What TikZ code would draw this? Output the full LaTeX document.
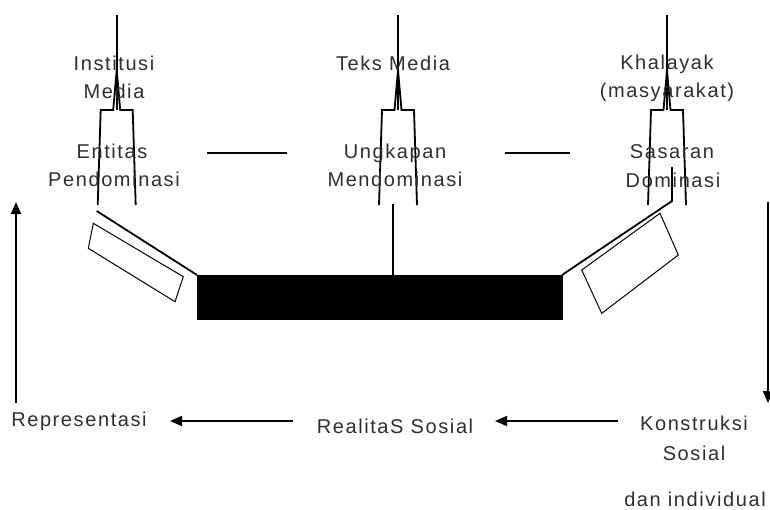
\documentclass[tikz,border=0pt]{standalone}
\usepackage{fontspec}
\setmainfont{Liberation Sans}[LetterSpace=8]
\usetikzlibrary{arrows.meta}
\tikzset{
  lbl/.style={text=black!82, font=\fontsize{20}{27}\selectfont, inner sep=0pt, anchor=base},
  forkline/.style={line width=1.8pt, line join=miter},
  beam/.style={line width=1.8pt},
  pan/.style={line width=1pt, fill=white},
  arr/.style={line width=1.7pt, -{Triangle[length=12pt,width=10pt]}},
  fork/.pic={
    \draw[forkline] (-19,205) -- (-16,110) -- (-3.5,110) -- (0,70) -- (3.5,110) -- (16,110) -- (19,205);
    \draw[forkline] (0,15) -- (0,110);
  }
}
\begin{document}
\begin{tikzpicture}[x=1pt,y=-1pt]
\useasboundingbox (0,0) rectangle (770,509);
% forks
\pic at (116.7,0) {fork};
\pic at (398,0) {fork};
\pic at (667,0) {fork};
% beams
\draw[beam] (96.7,211) -- (197,275);
\draw[line width=1.3pt] (393,204) -- (393,275);
\draw[beam] (672,167) -- (672,201) -- (562,275);
% pans
\draw[pan] (93.3,223.3) -- (183.3,276.7) -- (175,301.7) -- (88.3,248.3) -- cycle;
\draw[pan] (660,213.3) -- (678.3,255) -- (601.7,313.3) -- (581.7,270) -- cycle;
% bar
\fill (197,275) rectangle (563,320);
% dashes
\draw[beam] (207,153) -- (287,153);
\draw[beam] (505,153) -- (570,153);
% labels
\node[lbl] (inst) at (114,70) {Institusi};
\node[lbl] (instb) at (114,98) {Media};
\node[lbl] (ent) at (112,158) {Entitas};
\node[lbl] (entb) at (114,186) {Pendominasi};
\node[lbl] (teks) at (393,70) {Teks Media};
\node[lbl] (ungk) at (395,158) {Ungkapan};
\node[lbl] (ungkb) at (395,186.5) {Mendominasi};
\node[lbl] (khal) at (667,69) {Khalayak};
\node[lbl] (khalb) at (667,97) {(masyarakat)};
\node[lbl] (sas) at (672,158) {Sasaran};
\node[lbl] (sasb) at (673,187) {Dominasi};
\node[lbl] (rep) at (79,426) {Representasi};
\node[lbl] (real) at (395,433) {RealitaS Sosial};
\node[lbl] (kons) at (694,430) {Konstruksi};
\node[lbl] (konsb) at (694,460) {Sosial};
\node[lbl] (dan) at (695,506) {dan individual};
% arrows
\coordinate (repUp0) at (16,403);
\coordinate (repUp1) at (16,202);
\coordinate (konsDown0) at (768,202);
\coordinate (konsDown1) at (768,403);
\coordinate (k2r0) at (618,421);
\coordinate (k2r1) at (495,421);
\coordinate (r2r0) at (293,421);
\coordinate (r2r1) at (170,421);
\draw[arr] (repUp0) -- (repUp1);
\draw[arr] (konsDown0) -- (konsDown1);
\draw[arr] (k2r0) -- (k2r1);
\draw[arr] (r2r0) -- (r2r1);
\end{tikzpicture}
\end{document}
